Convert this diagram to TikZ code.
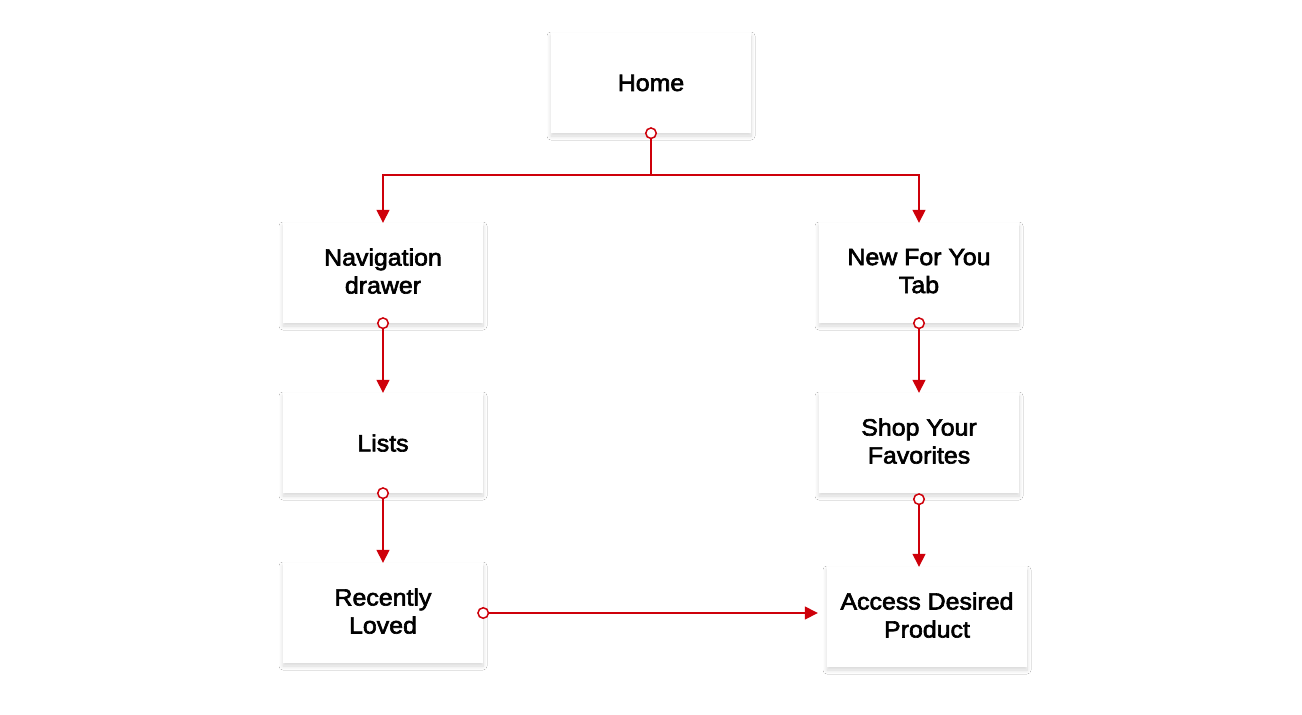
\documentclass[tikz,border=0pt]{standalone}
\usepackage{fontspec}
\font\lblfont="Liberation Sans:embolden=2.6;extend=1.06" at 23.5pt
\newcommand\cardfont{\lblfont\baselineskip=28pt\relax}
\usetikzlibrary{arrows.meta,shadows.blur}
\definecolor{linkred}{RGB}{206,0,10}
\tikzset{
  card/.style={draw=none, fill=white, minimum width=200pt, minimum height=100pt,
    inner sep=0pt, align=center,
    font=\cardfont,
    blur shadow={shadow xshift=0pt, shadow yshift=-3pt, shadow blur radius=4pt, shadow opacity=16, shadow blur steps=10}},
  twoline/.style={text depth=4pt},
  conn/.style={draw=linkred, line width=1.5pt},
  startdot/.style={{Circle[open, fill=white, length=12pt, width=12pt, line width=1.5pt]}-},
  endtri/.style={-{Triangle[length=13pt, width=13pt]}, linkred},
  both/.style={{Circle[open, fill=white, length=12pt, width=12pt, line width=1.5pt]}-{Triangle[length=13pt, width=13pt]}}
}
\begin{document}
\begin{tikzpicture}[x=1pt,y=1pt]
\useasboundingbox[fill=white] (0,0) rectangle (1302,-715);
\node[card] (home) at (651,-83) {Home};
\node[card, twoline] (nav) at (383,-273) {Navigation\\drawer};
\node[card, twoline] (new) at (919,-273) {New For You\\Tab};
\node[card] (lists) at (383,-443) {Lists};
\node[card, twoline] (shop) at (919,-443) {Shop Your\\Favorites};
\node[card, twoline] (recent) at (383,-613) {Recently\\Loved};
\node[card, twoline] (access) at (927,-617) {Access Desired\\Product};
\coordinate (split) at (651,-175);
\draw[conn, endtri] (split) -| (nav.north);
\draw[conn, endtri] (split) -| (new.north);
\draw[conn, startdot, shorten <=-6pt] (home.south) -- (split);
\draw[conn, both, shorten <=-6pt] (nav.south) -- (lists.north);
\draw[conn, both, shorten <=-6pt] (lists.south) -- (recent.north);
\draw[conn, both, shorten <=-6pt] (new.south) -- (shop.north);
\draw[conn, both] (shop.south) -- (access.north -| shop.south);
\draw[conn, both, shorten <=-6pt, shorten >=9pt] (recent.east) -- (recent.east -| access.west);
\end{tikzpicture}
\end{document}
